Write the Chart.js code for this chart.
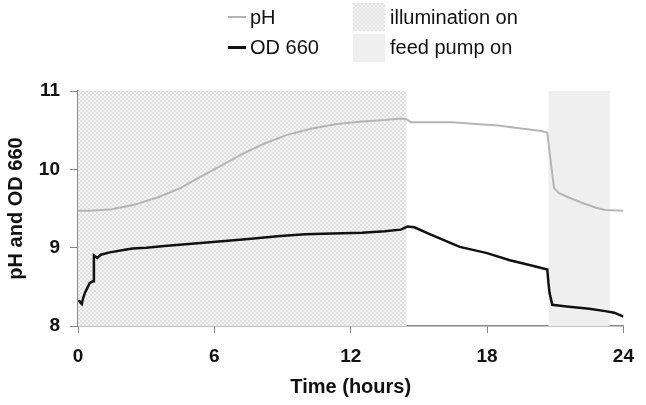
<!DOCTYPE html>
<html>
<head>
<meta charset="utf-8">
<script src="https://cdn.jsdelivr.net/npm/chart.js@4/dist/chart.umd.min.js"></script>
<style>
	body { margin: 0; background: #fff; font-family: 'Liberation Sans', Arial, sans-serif; }
	#wrap { position: relative; width: 646px; height: 405px; }
	.leg { position: absolute; font-size: 20px; color: #111; line-height: 24px; white-space: nowrap; }
	.line { position: absolute; height: 2px; width: 18px; }
	.box { position: absolute; width: 32px; height: 28px; }
</style>
</head>
<body>
<div id="wrap">
	<canvas id="chart" width="646" height="405"></canvas>
	<div class="line" style="left:228px; top:16px; background:#b5b5b5;"></div>
	<div class="leg" style="left:250px; top:5px;">pH</div>
	<div class="line" style="left:228px; top:46px; height:3px; background:#111;"></div>
	<div class="leg" style="left:250px; top:35px;">OD 660</div>
	<div class="box" id="hatchBox" style="left:353px; top:3px;"></div>
	<div class="leg" style="left:390px; top:5px;">illumination on</div>
	<div class="box" style="left:353px; top:34px; background:#efefef;"></div>
	<div class="leg" style="left:390px; top:35px;">feed pump on</div>
</div>
<script>
// time in hours
const phHours = [0, 0.5, 1.0, 1.5, 2.5, 3.5, 4.5, 5.3, 6.2, 7.2, 8.2, 9.2, 10.3, 11.4, 12.5, 13.5, 14.2, 14.45, 14.65, 15.5, 16.5, 17.5, 18.5, 19.5, 20.4, 20.65, 20.8, 20.95, 21.15, 21.6, 22.2, 22.8, 23.2, 24];
const phValues = [9.47, 9.47, 9.48, 9.49, 9.55, 9.64, 9.76, 9.89, 10.03, 10.19, 10.33, 10.44, 10.52, 10.58, 10.61, 10.63, 10.65, 10.64, 10.60, 10.60, 10.60, 10.58, 10.56, 10.52, 10.49, 10.47, 10.10, 9.76, 9.70, 9.64, 9.57, 9.51, 9.48, 9.47];

const odHours = [0.04, 0.1, 0.17, 0.22, 0.3, 0.4, 0.52, 0.65, 0.68, 0.7, 0.75, 0.85, 1.0, 1.4, 2.0, 2.4, 3.0, 3.8, 5.0, 6.2, 7.5, 8.9, 10.0, 11.2, 12.5, 13.5, 14.2, 14.5, 14.8, 15.5, 16.8, 18.0, 19.0, 20.0, 20.65, 20.7, 20.75, 20.87, 21.5, 22.5, 23.2, 23.6, 24];
const odValues = [8.33, 8.30, 8.28, 8.35, 8.42, 8.48, 8.55, 8.57, 8.57, 8.90, 8.89, 8.87, 8.91, 8.94, 8.97, 8.99, 9.00, 9.02, 9.05, 9.08, 9.11, 9.15, 9.17, 9.18, 9.19, 9.21, 9.23, 9.27, 9.26, 9.17, 9.01, 8.93, 8.84, 8.77, 8.72, 8.55, 8.42, 8.27, 8.25, 8.22, 8.19, 8.17, 8.12];

// shaded periods, in hours
const illumination = [0, 14.45];
const feedPump = [20.7, 23.4];

const xTicks = [0, 6, 12, 18, 24];
const yTicks = [8, 9, 10, 11];

// fine grey hatch like the original
function makeHatch() {
	const c = document.createElement('canvas');
	c.width = 4;
	c.height = 4;
	const g = c.getContext('2d');
	g.fillStyle = '#f5f5f5';
	g.fillRect(0, 0, 4, 4);
	g.fillStyle = '#e0e0e0';
	g.fillRect(0, 0, 2, 2);
	g.fillRect(2, 2, 2, 2);
	return c;
}
const hatchCanvas = makeHatch();
document.getElementById('hatchBox').style.background = 'url(' + hatchCanvas.toDataURL() + ')';

const shadePlugin = {
	id: 'shade',
	beforeDatasetsDraw(chart) {
		const { ctx, chartArea, scales } = chart;
		const x = scales.x;
		ctx.save();
		ctx.fillStyle = ctx.createPattern(hatchCanvas, 'repeat');
		let x0 = x.getPixelForValue(illumination[0]);
		let x1 = x.getPixelForValue(illumination[1]);
		ctx.fillRect(x0, chartArea.top, x1 - x0, chartArea.bottom - chartArea.top);
		ctx.fillStyle = '#efefef';
		x0 = x.getPixelForValue(feedPump[0]);
		x1 = x.getPixelForValue(feedPump[1]);
		ctx.fillRect(x0, chartArea.top, x1 - x0, chartArea.bottom - chartArea.top);
		ctx.restore();
	},
};

const toPoints = (xs, ys) => xs.map((t, i) => ({ x: t, y: ys[i] }));
const tickFont = { family: 'Liberation Sans', size: 19, weight: 'bold' };
const titleFont = { family: 'Liberation Sans', size: 20, weight: 'bold' };

new Chart(document.getElementById('chart').getContext('2d'), {
	type: 'line',
	data: {
		datasets: [
			{
				label: 'pH',
				data: toPoints(phHours, phValues),
				borderColor: '#b5b5b5',
				borderWidth: 2,
				pointRadius: 0,
				tension: 0,
			},
			{
				label: 'OD 660',
				data: toPoints(odHours, odValues),
				borderColor: '#111',
				borderWidth: 2.5,
				pointRadius: 0,
				tension: 0,
			},
		],
	},
	options: {
		responsive: false,
		animation: false,
		layout: { padding: { left: 0, top: 91, right: 0, bottom: 0 } },
		plugins: { legend: { display: false }, tooltip: { enabled: false } },
		scales: {
			x: {
				type: 'linear',
				min: 0,
				max: 24,
				afterBuildTicks: (scale) => { scale.ticks = xTicks.map((v) => ({ value: v })); },
				afterFit: (scale) => { scale.height = 79; },
				grid: { display: true, drawOnChartArea: false, tickLength: 7, color: '#888' },
				border: { display: true, color: '#888', width: 1.5 },
				ticks: { color: '#111', font: tickFont, padding: 12, maxRotation: 0 },
				title: { display: true, text: 'Time (hours)', color: '#111', font: titleFont, padding: { top: 0, bottom: 6 } },
			},
			y: {
				min: 8,
				max: 11,
				afterBuildTicks: (scale) => { scale.ticks = yTicks.map((v) => ({ value: v })); },
				afterFit: (scale) => { scale.width = 78; },
				grid: { display: true, drawOnChartArea: false, tickLength: 8, color: '#888' },
				border: { display: true, color: '#888', width: 1.5 },
				ticks: { color: '#111', font: tickFont, padding: 10 },
				title: { display: true, text: 'pH and OD 660', color: '#111', font: titleFont, padding: { top: 4, bottom: 0 } },
			},
		},
	},
	plugins: [shadePlugin],
});
</script>
</body>
</html>
